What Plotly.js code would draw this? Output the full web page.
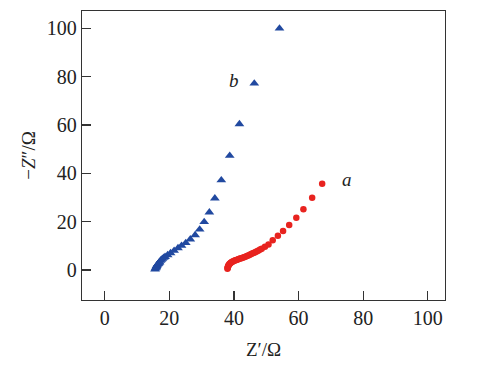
<!DOCTYPE html>
<html>
<head>
<meta charset="utf-8">
<script src="https://cdn.plot.ly/plotly-3.0.1.min.js"></script>
<style>html,body{margin:0;padding:0;background:#fff;}#chart{width:491px;height:372px;}</style>
</head>
<body>
<div id="chart"></div>
<script>
// Series a (red circles)
const aX = [38.0, 38.05, 38.1, 38.2, 38.3, 38.45, 38.6, 38.8, 39.0, 39.25, 39.5, 39.8, 40.1, 40.45, 40.8, 41.15, 41.5, 41.9, 42.3, 42.7, 43.1, 43.55, 44.0, 44.45, 44.9, 45.35, 45.8, 46.25, 46.7, 47.15, 47.6, 48.1, 48.6, 49.6, 50.7, 52.0, 53.6, 55.2, 57.1, 59.3, 61.5, 64.2, 67.3];
const aY = [0.5, 0.85, 1.2, 1.55, 1.9, 2.2, 2.5, 2.75, 3.0, 3.2, 3.4, 3.6, 3.8, 4.0, 4.2, 4.4, 4.6, 4.75, 4.9, 5.1, 5.3, 5.55, 5.8, 6.05, 6.3, 6.6, 6.9, 7.2, 7.5, 7.8, 8.1, 8.45, 8.8, 9.6, 10.6, 12.3, 14.2, 16.2, 18.6, 21.6, 25.2, 29.9, 35.7];
// Series b (blue triangles)
const bX = [15.6, 15.75, 15.9, 16.0, 16.1, 16.25, 16.4, 16.55, 16.7, 16.85, 17.0, 17.3, 17.6, 17.9, 18.3, 18.7, 19.5, 20.4, 21.5, 22.7, 23.8, 25.1, 26.5, 28.0, 29.4, 30.8, 32.4, 34.1, 36.1, 38.7, 41.7, 46.3, 54.1];
const bY = [0.3, 0.65, 1.0, 1.35, 1.7, 2.0, 2.3, 2.55, 2.8, 3.05, 3.3, 3.9, 4.3, 4.7, 5.1, 5.5, 6.2, 7.0, 8.0, 9.1, 10.1, 11.2, 12.7, 14.5, 16.8, 19.9, 23.9, 29.7, 37.2, 47.3, 60.4, 77.2, 100.0];
const xTicks = [0, 20, 40, 60, 80, 100];
const yTicks = [0, 20, 40, 60, 80, 100];
const labels = [{text: 'a', x: 74.9, y: 37.6}, {text: 'b', x: 40.0, y: 78.3}];

const serif = 'Liberation Serif, Times New Roman, serif';
const traces = [
  {x: aX, y: aY, mode: 'markers', type: 'scatter', name: 'a',
   marker: {symbol: 'circle', size: 6.5, color: '#e8231f'}},
  {x: bX, y: bY, mode: 'markers', type: 'scatter', name: 'b',
   marker: {symbol: 'triangle-up', size: 8.5, color: '#2149a0'}}
];
const axisCommon = {
  showgrid: false, zeroline: false, showline: true, mirror: true,
  linecolor: '#333', linewidth: 1.2, ticks: 'inside', ticklen: 9, tickwidth: 1.2,
  tickcolor: '#333', tickfont: {family: serif, size: 20, color: '#222'}
};
const layout = {
  width: 491, height: 372,
  margin: {l: 82, r: 46, t: 11, b: 72},
  paper_bgcolor: '#fff', plot_bgcolor: '#fff',
  showlegend: false,
  xaxis: Object.assign({}, axisCommon, {
    range: [-7, 105.3], tickvals: xTicks, ticktext: xTicks.map(String),
    title: {text: 'Z′/Ω', font: {family: serif, size: 19, color: '#222'}, standoff: 14}
  }),
  yaxis: Object.assign({}, axisCommon, {
    range: [-12.4, 107.2], tickvals: yTicks, ticktext: yTicks.map(String),
    title: {text: '−<i>Z</i>″/Ω', font: {family: serif, size: 19, color: '#222'}, standoff: 6}
  }),
  annotations: labels.map(l => ({x: l.x, y: l.y, xref: 'x', yref: 'y', text: '<i>' + l.text + '</i>',
    showarrow: false, font: {family: serif, size: 19, color: '#222'}}))
};
Plotly.newPlot('chart', traces, layout, {displayModeBar: false, staticPlot: true});
</script>
</body>
</html>
